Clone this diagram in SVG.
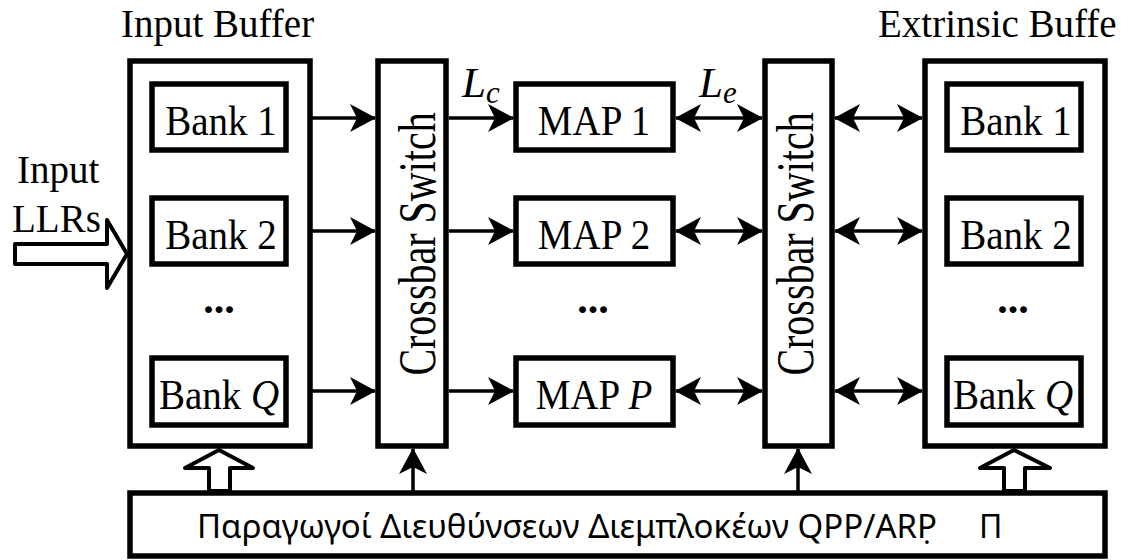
<svg xmlns="http://www.w3.org/2000/svg" width="1121" height="560" viewBox="0 0 1121 560">
  <style>
    .box { fill: #fff; stroke: #000; stroke-width: 5.5; }
    .wire { fill: none; stroke: #000; stroke-width: 3.5; }
    .hollow { fill: #fff; stroke: #000; stroke-width: 4; stroke-linejoin: round; }
    .serif { font-family: "Liberation Serif", "Times New Roman", serif; fill: #000; }
    .lbl { font-size: 39px; text-anchor: middle; }
    .dots { font-size: 42px; font-weight: bold; text-anchor: middle; }
    .xbar { font-size: 40px; text-anchor: middle; }
    .sans { font-family: "Noto Sans", "Open Sans", "DejaVu Sans", sans-serif; font-size: 32px; fill: #000; }
  </style>
  <defs>
    <marker id="head" viewBox="0 0 26 28" refX="25" refY="14" markerWidth="26" markerHeight="28" markerUnits="userSpaceOnUse" orient="auto-start-reverse">
      <path d="M0,0 L26,14 L0,28 L7,14 Z" fill="#000"/>
    </marker>
  </defs>

  <rect width="1121" height="560" fill="#fff"/>

  <!-- titles and side labels -->
  <text class="serif" x="121" y="37" font-size="39">Input Buffer</text>
  <text class="serif" x="878" y="37" font-size="39">Extrinsic Buffe</text>
  <text class="serif" x="17" y="183" font-size="39">Input</text>
  <text class="serif" x="12" y="232" font-size="39">LLRs</text>

  <!-- input buffer -->
  <g id="input-buffer">
    <rect class="box" x="130" y="61" width="180" height="385"/>
    <rect class="box" x="152" y="84" width="134" height="66"/>
    <text class="serif lbl" transform="translate(221,135) scale(1,1.08)">Bank 1</text>
    <rect class="box" x="152" y="198" width="134" height="66"/>
    <text class="serif lbl" transform="translate(221,249) scale(1,1.08)">Bank 2</text>
    <text class="serif dots" x="219" y="313">...</text>
    <rect class="box" x="152" y="358" width="134" height="67"/>
    <text class="serif lbl" transform="translate(219,409) scale(1,1.08)">Bank <tspan font-style="italic">Q</tspan></text>
  </g>

  <!-- first crossbar -->
  <g id="crossbar-1">
    <rect class="box" x="378" y="61" width="68" height="385"/>
    <text class="serif xbar" transform="translate(435,244) rotate(-90) scale(1,1.3)">Crossbar Switch</text>
  </g>

  <!-- MAP decoders -->
  <g id="map-1">
    <rect class="box" x="516" y="84" width="157" height="66"/>
    <text class="serif lbl" transform="translate(594,135) scale(1,1.08)">MAP 1</text>
  </g>
  <g id="map-2">
    <rect class="box" x="516" y="198" width="157" height="66"/>
    <text class="serif lbl" transform="translate(594,249) scale(1,1.08)">MAP 2</text>
  </g>
  <text class="serif dots" x="593" y="313">...</text>
  <g id="map-p">
    <rect class="box" x="516" y="358" width="157" height="67"/>
    <text class="serif lbl" transform="translate(594,409) scale(1,1.08)">MAP <tspan font-style="italic">P</tspan></text>
  </g>

  <!-- second crossbar -->
  <g id="crossbar-2">
    <rect class="box" x="765" y="61" width="67" height="385"/>
    <text class="serif xbar" transform="translate(813,244) rotate(-90) scale(1,1.3)">Crossbar Switch</text>
  </g>

  <!-- extrinsic buffer -->
  <g id="extrinsic-buffer">
    <rect class="box" x="925" y="61" width="180" height="385"/>
    <rect class="box" x="947" y="84" width="134" height="66"/>
    <text class="serif lbl" transform="translate(1016,135) scale(1,1.08)">Bank 1</text>
    <rect class="box" x="947" y="198" width="134" height="66"/>
    <text class="serif lbl" transform="translate(1016,249) scale(1,1.08)">Bank 2</text>
    <text class="serif dots" x="1013" y="313">...</text>
    <rect class="box" x="947" y="358" width="134" height="67"/>
    <text class="serif lbl" transform="translate(1013,409) scale(1,1.08)">Bank <tspan font-style="italic">Q</tspan></text>
  </g>

  <!-- address generators -->
  <g id="address-generators">
    <rect class="box" x="130" y="493" width="975" height="63"/>
    <text class="sans" x="197" y="538" textLength="740" lengthAdjust="spacingAndGlyphs">Παραγωγοί Διευθύνσεων Διεμπλοκέων QPP/ARP̣</text>
    <text class="sans" x="979" y="538">Π</text>
  </g>

  <!-- connectors -->
  <g id="connectors">
    <!-- input LLRs into the buffer -->
    <polygon class="hollow" points="15,244 107,244 107,220 127,254 107,288 107,264 15,264"/>

    <!-- buffer banks to crossbar -->
    <line class="wire" x1="312" y1="118" x2="375" y2="118" marker-end="url(#head)"/>
    <line class="wire" x1="312" y1="231" x2="375" y2="231" marker-end="url(#head)"/>
    <line class="wire" x1="312" y1="391" x2="375" y2="391" marker-end="url(#head)"/>

    <!-- crossbar to MAPs -->
    <line class="wire" x1="449" y1="118" x2="513" y2="118" marker-end="url(#head)"/>
    <line class="wire" x1="449" y1="231" x2="513" y2="231" marker-end="url(#head)"/>
    <line class="wire" x1="449" y1="391" x2="513" y2="391" marker-end="url(#head)"/>

    <!-- MAPs to second crossbar -->
    <line class="wire" x1="676" y1="118" x2="762" y2="118" marker-start="url(#head)" marker-end="url(#head)"/>
    <line class="wire" x1="676" y1="231" x2="762" y2="231" marker-start="url(#head)" marker-end="url(#head)"/>
    <line class="wire" x1="676" y1="391" x2="762" y2="391" marker-start="url(#head)" marker-end="url(#head)"/>

    <!-- second crossbar to extrinsic banks -->
    <line class="wire" x1="835" y1="118" x2="922" y2="118" marker-start="url(#head)" marker-end="url(#head)"/>
    <line class="wire" x1="835" y1="231" x2="922" y2="231" marker-start="url(#head)" marker-end="url(#head)"/>
    <line class="wire" x1="835" y1="391" x2="922" y2="391" marker-start="url(#head)" marker-end="url(#head)"/>

    <!-- control from address generators -->
    <line class="wire" x1="413" y1="491" x2="413" y2="449" marker-end="url(#head)"/>
    <line class="wire" x1="798" y1="491" x2="798" y2="449" marker-end="url(#head)"/>
    <polygon class="hollow" points="209,491 209,468 185,468 219,450 253,468 230,468 230,491"/>
    <polygon class="hollow" points="1004,491 1004,468 980,468 1014,450 1050,468 1025,468 1025,491"/>
  </g>

  <!-- labels on the MAP links -->
  <text class="serif" x="462" y="97" font-size="43" font-style="italic">L<tspan font-size="31" dy="6">c</tspan></text>
  <text class="serif" x="699" y="97" font-size="43" font-style="italic">L<tspan font-size="31" dy="6">e</tspan></text>
</svg>
